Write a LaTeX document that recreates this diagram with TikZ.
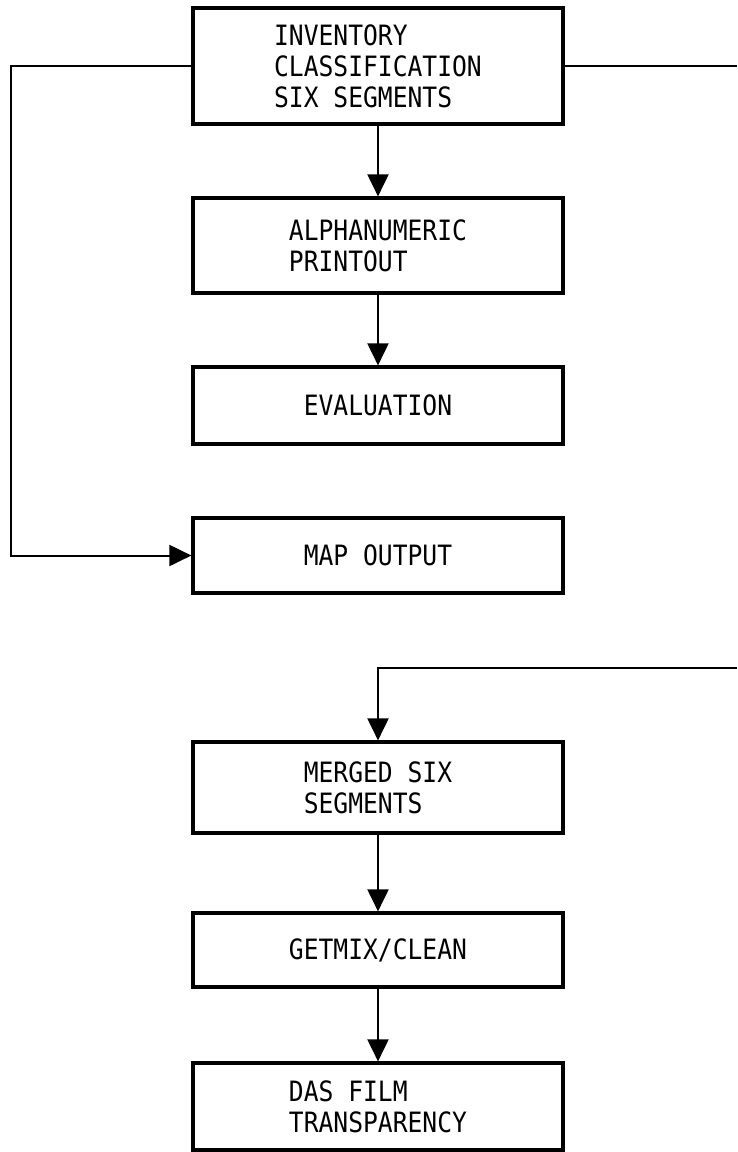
\documentclass[tikz,border=0pt]{standalone}
\usepackage{fontspec}
\newfontfamily\plotfont[FakeStretch=0.88]{DejaVu Sans Mono}
\usetikzlibrary{arrows.meta}
\begin{document}
\begin{tikzpicture}[x=1pt,y=-1pt,
  box/.style={draw, line width=3.2pt, rectangle, minimum width=370pt, inner sep=0pt,
    align=left, font=\plotfont\fontsize{28}{31}\selectfont},
  conn/.style={line width=2pt},
  arr/.style={conn, -{Triangle[length=22pt,width=21pt]}}]
\useasboundingbox (0,0) rectangle (737,1152);
\node[box, minimum height=116pt] (b1) at (378,66) {INVENTORY\\CLASSIFICATION\\SIX SEGMENTS};
\node[box, minimum height=95pt] (b2) at (378,245.5) {ALPHANUMERIC\\PRINTOUT};
\node[box, minimum height=77pt] (b3) at (378,405.5) {EVALUATION};
\node[box, minimum height=75pt] (b4) at (378,555.5) {MAP OUTPUT};
\node[box, minimum height=91pt] (b5) at (378,787.5) {MERGED SIX\\SEGMENTS};
\node[box, minimum height=74pt] (b6) at (378,950) {GETMIX/CLEAN};
\node[box, minimum height=87pt] (b7) at (378,1106.5) {DAS FILM\\TRANSPARENCY};
\coordinate (lc) at (11,66);
\coordinate (ld) at (11,555.5);
\coordinate (re) at (737,66);
\coordinate (rr) at (737,668);
\coordinate (rt) at (378,668);
\draw[arr] (b1) -- (b2);
\draw[arr] (b2) -- (b3);
\draw[arr] (b1.west) -- (lc) -- (ld) -- (b4.west);
\draw[conn] (b1.east) -- (re);
\draw[arr] (rr) -- (rt) -- (b5.north);
\draw[arr] (b5) -- (b6);
\draw[arr] (b6) -- (b7);
\end{tikzpicture}
\end{document}
